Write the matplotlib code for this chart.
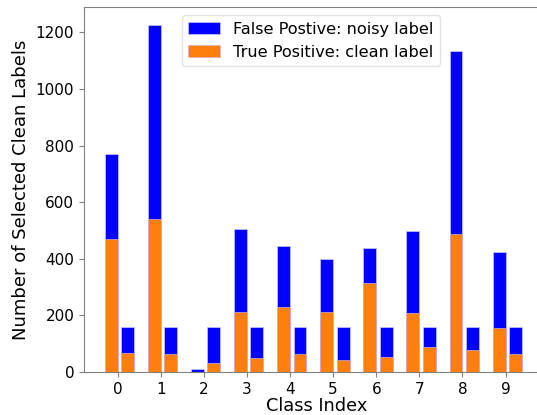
import matplotlib
matplotlib.use("Agg")
import matplotlib.pyplot as plt
import numpy as np

classes = [0, 1, 2, 3, 4, 5, 6, 7, 8, 9]
# left bar of each class
left_total = [770, 1228, 10, 504, 444, 401, 439, 500, 1136, 425]
left_clean = [471, 540, 0, 211, 230, 211, 313, 209, 487, 157]
# right bar of each class
right_total = [159, 159, 159, 159, 159, 159, 159, 159, 159, 159]
right_clean = [68, 62, 33, 50, 64, 44, 52, 87, 76, 65]

BLUE = "#0000ff"
ORANGE = "#ff7f0e"
W = 0.3

fig = plt.figure(figsize=(5.37, 4.15), dpi=100)
# axes run past the right edge, as in the cropped original
ax = fig.add_axes([84 / 537, 43 / 415, 466 / 537, 365 / 415])

x = np.array(classes)
ax.bar(x - 0.15, left_total, W, color=BLUE, edgecolor="#c8c8ff", lw=0.5,
       label="False Postive: noisy label")
ax.bar(x - 0.15, left_clean, W, color=ORANGE, edgecolor="#d8b0c8", lw=0.5,
       label="True Positive: clean label")
ax.bar(x + 0.23, right_total, W, color=BLUE, edgecolor="#c8c8ff", lw=0.5)
ax.bar(x + 0.23, right_clean, W, color=ORANGE, edgecolor="#d8b0c8", lw=0.5)

ax.set_xticks(classes)
ax.set_xlim(-0.78, 10.03)
ax.set_ylim(0, 1290)
ax.set_yticks([0, 200, 400, 600, 800, 1000, 1200])
ax.tick_params(labelsize=11, color="#808080")
for s in ax.spines.values():
    s.set_color("#808080")
ax.set_xlabel("Class Index", fontsize=12.8, labelpad=0)
ax.set_ylabel("Number of Selected Clean Labels", fontsize=13)
ax.legend(loc="upper center", bbox_to_anchor=(0.487, 1.0), fontsize=11.6,
          framealpha=0.9, edgecolor="#e0e0e0")

fig.savefig("out.png", dpi=100)
